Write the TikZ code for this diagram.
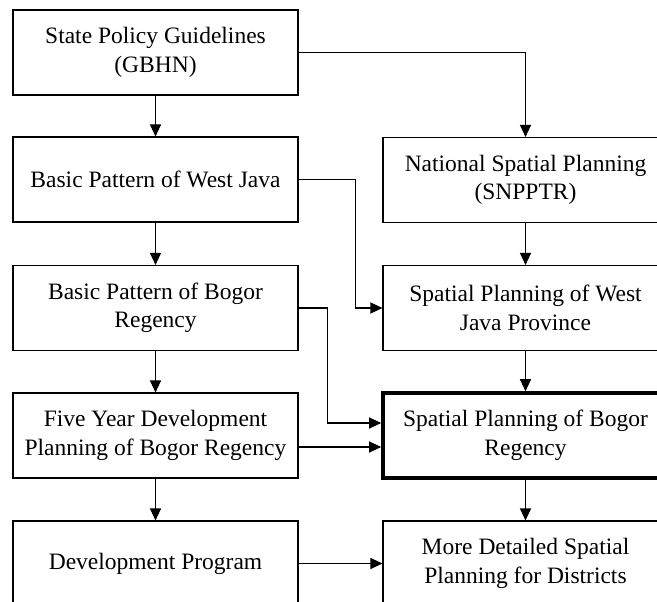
\documentclass[tikz,border=0pt]{standalone}
\usepackage{fontspec}
\setmainfont{Liberation Serif}
\usetikzlibrary{arrows.meta}
\begin{document}
\begin{tikzpicture}[x=1pt,y=-1pt,
  box/.style={draw, line width=1.1pt, minimum width=285pt, minimum height=85pt, align=center, font=\fontsize{23.5}{28.5}\selectfont, inner sep=0pt},
  mainbox/.style={box, line width=3.6pt},
  conn/.style={line width=1.1pt, -{Triangle[length=12pt,width=11pt]}}]
\useasboundingbox (0,0) rectangle (657,602);
\clip (0,0) rectangle (657,602);
\fill[white] (0,0) rectangle (657,602);
\node[box] (b1) at (155.5,52.5) {State Policy Guidelines\\(GBHN)};
\node[box] (b2) at (155.5,179.5) {Basic Pattern of West Java};
\node[box] (b3) at (155.5,308) {Basic Pattern of Bogor\\Regency};
\node[box] (b4) at (155.5,435.5) {Five Year Development\\Planning of Bogor Regency};
\node[box] (b5) at (155.5,563.5) {Development Program};
\node[box] (r1) at (525.5,180) {National Spatial Planning\\(SNPPTR)};
\node[box] (r2) at (525.5,308) {Spatial Planning of West\\Java Province};
\node[mainbox] (r3) at (525.5,435.5) {Spatial Planning of Bogor\\Regency};
\node[box] (r4) at (525.5,563.5) {More Detailed Spatial\\Planning for Districts};
\draw[conn] (b1) -- (b2);
\draw[conn] (b2) -- (b3);
\draw[conn] (b3) -- (b4);
\draw[conn] (b4) -- (b5);
\draw[conn] (r1) -- (r2);
\draw[conn] (r2) -- (r3);
\draw[conn] (r3) -- (r4);
\draw[conn] (b1.east) -| (r1.north);
\draw[conn] (b2.east) -- ++(57,0) |- (r2.west);
\draw[conn] (b3.east) -- ++(29,0) |- ([yshift=12.5pt]r3.west);
\draw[conn] ([yshift=-11.5pt]b4.east) -- ([yshift=-11.5pt]r3.west);
\draw[conn] (b5.east) -- (r4.west);
\end{tikzpicture}
\end{document}
